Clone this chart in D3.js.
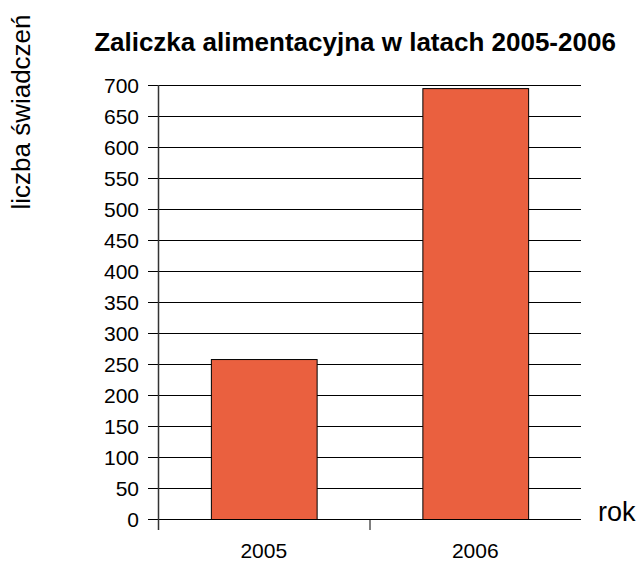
<!DOCTYPE html>
<html>
<head>
<meta charset="utf-8">
<script src="https://cdn.jsdelivr.net/npm/d3@7"></script>
<style>
  body { margin: 0; background: #fff; }
  text { font-family: "Liberation Sans", Arial, sans-serif; fill: #000; }
</style>
</head>
<body>
<svg id="chart"></svg>
<script>
// chart data
const years = ["2005", "2006"];
const counts = [258, 695];
const yTicks = [0, 50, 100, 150, 200, 250, 300, 350, 400, 450, 500, 550, 600, 650, 700];

const width = 640, height = 561;
const margin = { top: 85, right: 59, bottom: 42, left: 158 };
const innerW = width - margin.left - margin.right;
const innerH = height - margin.top - margin.bottom;

const svg = d3.select("#chart")
	.attr("width", width)
	.attr("height", height);

const g = svg.append("g")
	.attr("transform", `translate(${margin.left},${margin.top})`);

const xScale = d3.scaleBand()
	.domain(years)
	.range([0, innerW])
	.paddingInner(0.5)
	.paddingOuter(0.25);

const yScale = d3.scaleLinear()
	.domain([0, 700])
	.range([innerH, 0]);

// horizontal grid lines, with a small tick stub left of the axis
g.append("g")
	.selectAll("line")
	.data(yTicks)
	.join("line")
		.attr("x1", -10)
		.attr("x2", innerW)
		.attr("y1", d => yScale(d) + 0.5)
		.attr("y2", d => yScale(d) + 0.5)
		.attr("stroke", "#000")
		.attr("stroke-width", 1);

// y tick labels
g.append("g")
	.selectAll("text")
	.data(yTicks)
	.join("text")
		.attr("x", -19)
		.attr("y", d => yScale(d))
		.attr("dy", "0.36em")
		.style("text-anchor", "end")
		.style("font-size", "21px")
		.text(d => d);

// bars
g.selectAll(".bar")
	.data(years.map((y, i) => ({ year: y, value: counts[i] })))
	.join("rect")
		.attr("class", "bar")
		.attr("x", d => xScale(d.year) + 0.5)
		.attr("y", d => yScale(d.value) + 0.5)
		.attr("width", xScale.bandwidth())
		.attr("height", d => innerH - yScale(d.value))
		.attr("fill", "#EA603F")
		.attr("stroke", "#000")
		.attr("stroke-width", 1);

// y axis line
g.append("line")
	.attr("x1", 0.5).attr("x2", 0.5)
	.attr("y1", 0).attr("y2", innerH + 11)
	.attr("stroke", "#333")
	.attr("stroke-width", 1.5);

// x category separator ticks
const step = xScale.step();
g.append("g")
	.selectAll("line")
	.data(years.slice(1))
	.join("line")
		.attr("x1", d => xScale(d) - step * xScale.paddingInner() / 2 + 0.5)
		.attr("x2", d => xScale(d) - step * xScale.paddingInner() / 2 + 0.5)
		.attr("y1", innerH)
		.attr("y2", innerH + 11)
		.attr("stroke", "#000");

// x labels
g.append("g")
	.selectAll("text")
	.data(years)
	.join("text")
		.attr("x", d => xScale(d) + xScale.bandwidth() / 2)
		.attr("y", innerH + 39)
		.style("text-anchor", "middle")
		.style("font-size", "21px")
		.text(d => d);

// title
svg.append("text")
	.attr("x", 355)
	.attr("y", 51)
	.style("text-anchor", "middle")
	.style("font-size", "26px")
	.style("font-weight", "bold")
	.text("Zaliczka alimentacyjna w latach 2005-2006");

// axis titles
svg.append("text")
	.attr("transform", "rotate(-90)")
	.attr("x", -112)
	.attr("y", 30)
	.style("text-anchor", "middle")
	.style("font-size", "26px")
	.text("liczba świadczeń");

svg.append("text")
	.attr("x", 598)
	.attr("y", 521)
	.style("font-size", "27px")
	.text("rok");
</script>
</body>
</html>
